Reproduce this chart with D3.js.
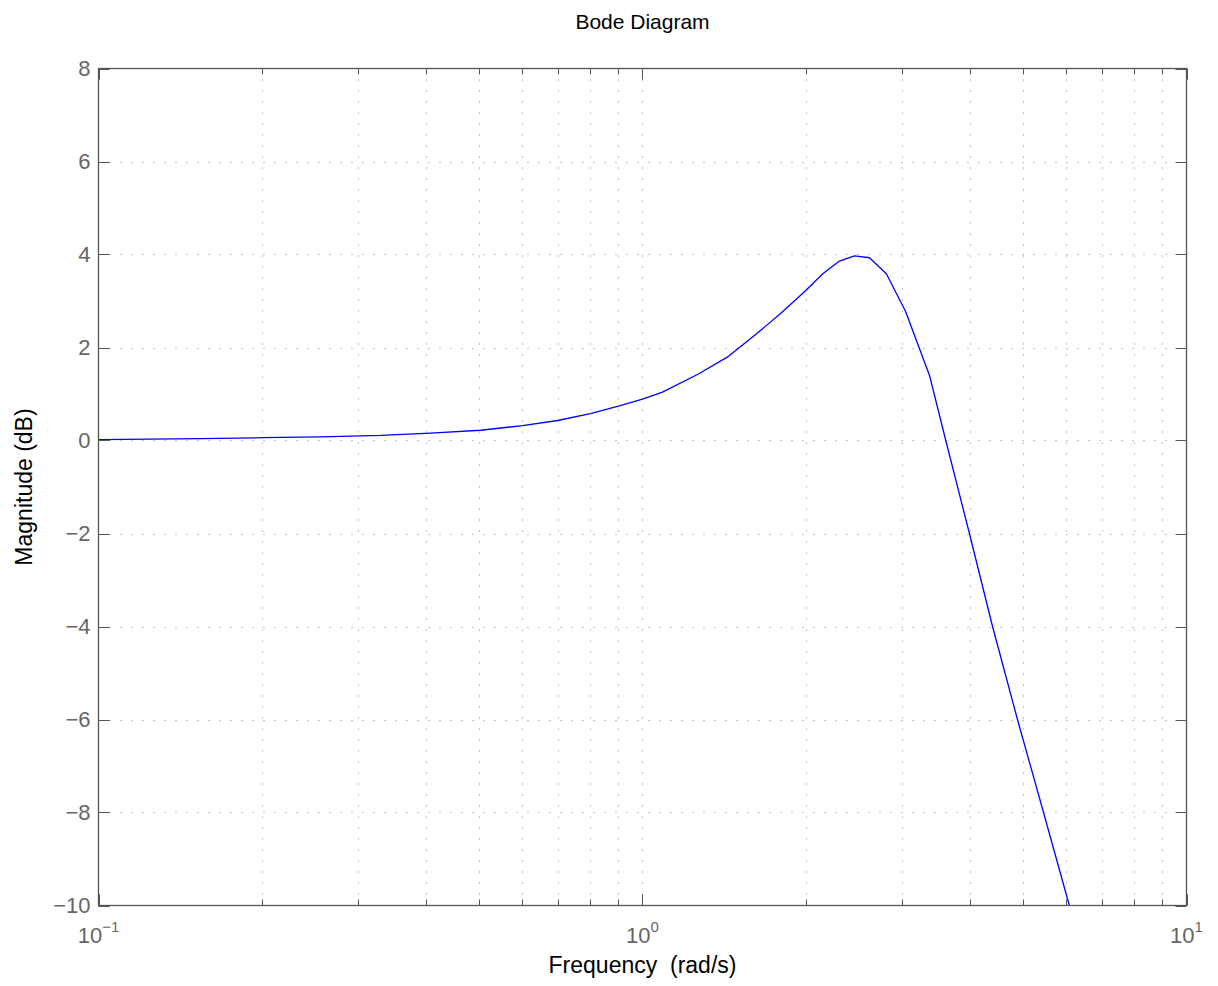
<!DOCTYPE html>
<html>
<head>
<meta charset="utf-8">
<script src="https://cdn.jsdelivr.net/npm/d3@7"></script>
<style>
  html, body { margin: 0; padding: 0; background: #fff; }
  svg { display: block; font-family: "Liberation Sans", Arial, Helvetica, sans-serif; }
</style>
</head>
<body>
<svg id="chart" width="1218" height="986"></svg>
<script>
// Frequency response samples (rad/s) and magnitude (dB)
const freq = [0.100, 0.154, 0.200, 0.256, 0.330, 0.408, 0.504, 0.602, 0.698, 0.802,
              0.903, 1.000, 1.088, 1.267, 1.439, 1.627, 1.794, 1.994, 2.142, 2.302,
              2.453, 2.614, 2.809, 3.044, 3.370, 3.610, 3.990, 4.400, 4.890, 5.460, 6.090];
const magDb = [0.02, 0.04, 0.06, 0.08, 0.11, 0.16, 0.22, 0.32, 0.43, 0.58,
               0.74, 0.89, 1.04, 1.43, 1.81, 2.31, 2.73, 3.22, 3.58, 3.86,
               3.97, 3.93, 3.58, 2.78, 1.40, 0.00, -2.00, -4.00, -6.00, -8.00, -10.00];

// Axis ticks
const yTicks = [8, 6, 4, 2, 0, -2, -4, -6, -8, -10];
const xMajor = [0.1, 1, 10];
const xTickExp = ["\u22121", "0", "1"];
const xMinor = [0.2, 0.3, 0.4, 0.5, 0.6, 0.7, 0.8, 0.9, 2, 3, 4, 5, 6, 7, 8, 9];

const titleText = "Bode Diagram";
const xLabelText = "Frequency  (rad/s)";
const yLabelText = "Magnitude (dB)";

const plotLeft = 98.5, plotRight = 1186.5, plotTop = 68.5, plotBottom = 905.5;

const svg = d3.select("#chart");
const x = d3.scaleLog().domain([0.1, 10]).range([plotLeft, plotRight]);
const y = d3.scaleLinear().domain([-10, 8]).range([plotBottom, plotTop]);

const gridColor = "#8a8a8a";
const axisColor = "#555";
const tickText = "#666";

// Dotted grid
const grid = svg.append("g").attr("stroke", gridColor).attr("stroke-width", 1)
  .attr("stroke-dasharray", "1,10").attr("fill", "none");
grid.selectAll("line.vx").data(xMajor.concat(xMinor).filter(v => v > 0.1 && v < 10)).join("line")
  .attr("x1", d => Math.round(x(d)) + 0.5).attr("x2", d => Math.round(x(d)) + 0.5)
  .attr("y1", plotBottom).attr("y2", plotTop);
grid.selectAll("line.hy").data(yTicks.filter(v => v > -10 && v < 8)).join("line")
  .attr("x1", plotLeft).attr("x2", plotRight)
  .attr("y1", d => Math.round(y(d)) + 0.5).attr("y2", d => Math.round(y(d)) + 0.5);

// Response curve
const line = d3.line().x((d, i) => x(freq[i])).y(d => y(d));
svg.append("path").datum(magDb)
  .attr("d", line)
  .attr("fill", "none")
  .attr("stroke", "#0000ff")
  .attr("stroke-width", 1.3)
  .attr("stroke-linejoin", "round");

// Tick marks (inside, both sides)
const ticks = svg.append("g").attr("stroke", axisColor).attr("stroke-width", 1);
const majLen = 11, minLen = 6;
const xAll = xMajor.map(v => ({ v, len: majLen })).concat(xMinor.map(v => ({ v, len: minLen })));
ticks.selectAll("line.xb").data(xAll).join("line")
  .attr("x1", d => Math.round(x(d.v)) + 0.5).attr("x2", d => Math.round(x(d.v)) + 0.5)
  .attr("y1", plotBottom).attr("y2", d => plotBottom - d.len);
ticks.selectAll("line.xt").data(xAll).join("line")
  .attr("x1", d => Math.round(x(d.v)) + 0.5).attr("x2", d => Math.round(x(d.v)) + 0.5)
  .attr("y1", plotTop).attr("y2", d => plotTop + d.len);
ticks.selectAll("line.yl").data(yTicks).join("line")
  .attr("x1", plotLeft).attr("x2", plotLeft + majLen)
  .attr("y1", d => Math.round(y(d)) + 0.5).attr("y2", d => Math.round(y(d)) + 0.5);
ticks.selectAll("line.yr").data(yTicks).join("line")
  .attr("x1", plotRight).attr("x2", plotRight - majLen)
  .attr("y1", d => Math.round(y(d)) + 0.5).attr("y2", d => Math.round(y(d)) + 0.5);

// Axes box
svg.append("rect")
  .attr("x", plotLeft).attr("y", plotTop)
  .attr("width", plotRight - plotLeft).attr("height", plotBottom - plotTop)
  .attr("fill", "none").attr("stroke", axisColor).attr("stroke-width", 1.3);

// Y tick labels
svg.append("g").selectAll("text").data(yTicks).join("text")
  .attr("x", plotLeft - 8)
  .attr("y", d => y(d))
  .attr("dy", "0.36em")
  .attr("text-anchor", "end")
  .attr("font-size", 22)
  .attr("fill", tickText)
  .text(d => d < 0 ? "\u2212" + Math.abs(d) : String(d));

// X tick labels: 10 with superscript exponent
const xl = svg.append("g").selectAll("text").data(xMajor).join("text")
  .attr("x", d => x(d))
  .attr("y", 943)
  .attr("text-anchor", "middle")
  .attr("font-size", 22)
  .attr("fill", tickText);
xl.append("tspan").text("10");
xl.append("tspan")
  .attr("dy", -11)
  .attr("font-size", 15)
  .text((d, i) => xTickExp[i]);

// Title and axis labels
svg.append("text")
  .attr("x", (plotLeft + plotRight) / 2).attr("y", 29)
  .attr("text-anchor", "middle").attr("font-size", 21).attr("fill", "#000")
  .text(titleText);
svg.append("text")
  .attr("x", (plotLeft + plotRight) / 2).attr("y", 973)
  .attr("text-anchor", "middle").attr("font-size", 23).attr("fill", "#000")
  .attr("xml:space", "preserve").style("white-space", "pre")
  .text(xLabelText);
svg.append("text")
  .attr("transform", `translate(32, ${(plotTop + plotBottom) / 2}) rotate(-90)`)
  .attr("text-anchor", "middle").attr("font-size", 23).attr("fill", "#000")
  .text(yLabelText);
</script>
</body>
</html>
